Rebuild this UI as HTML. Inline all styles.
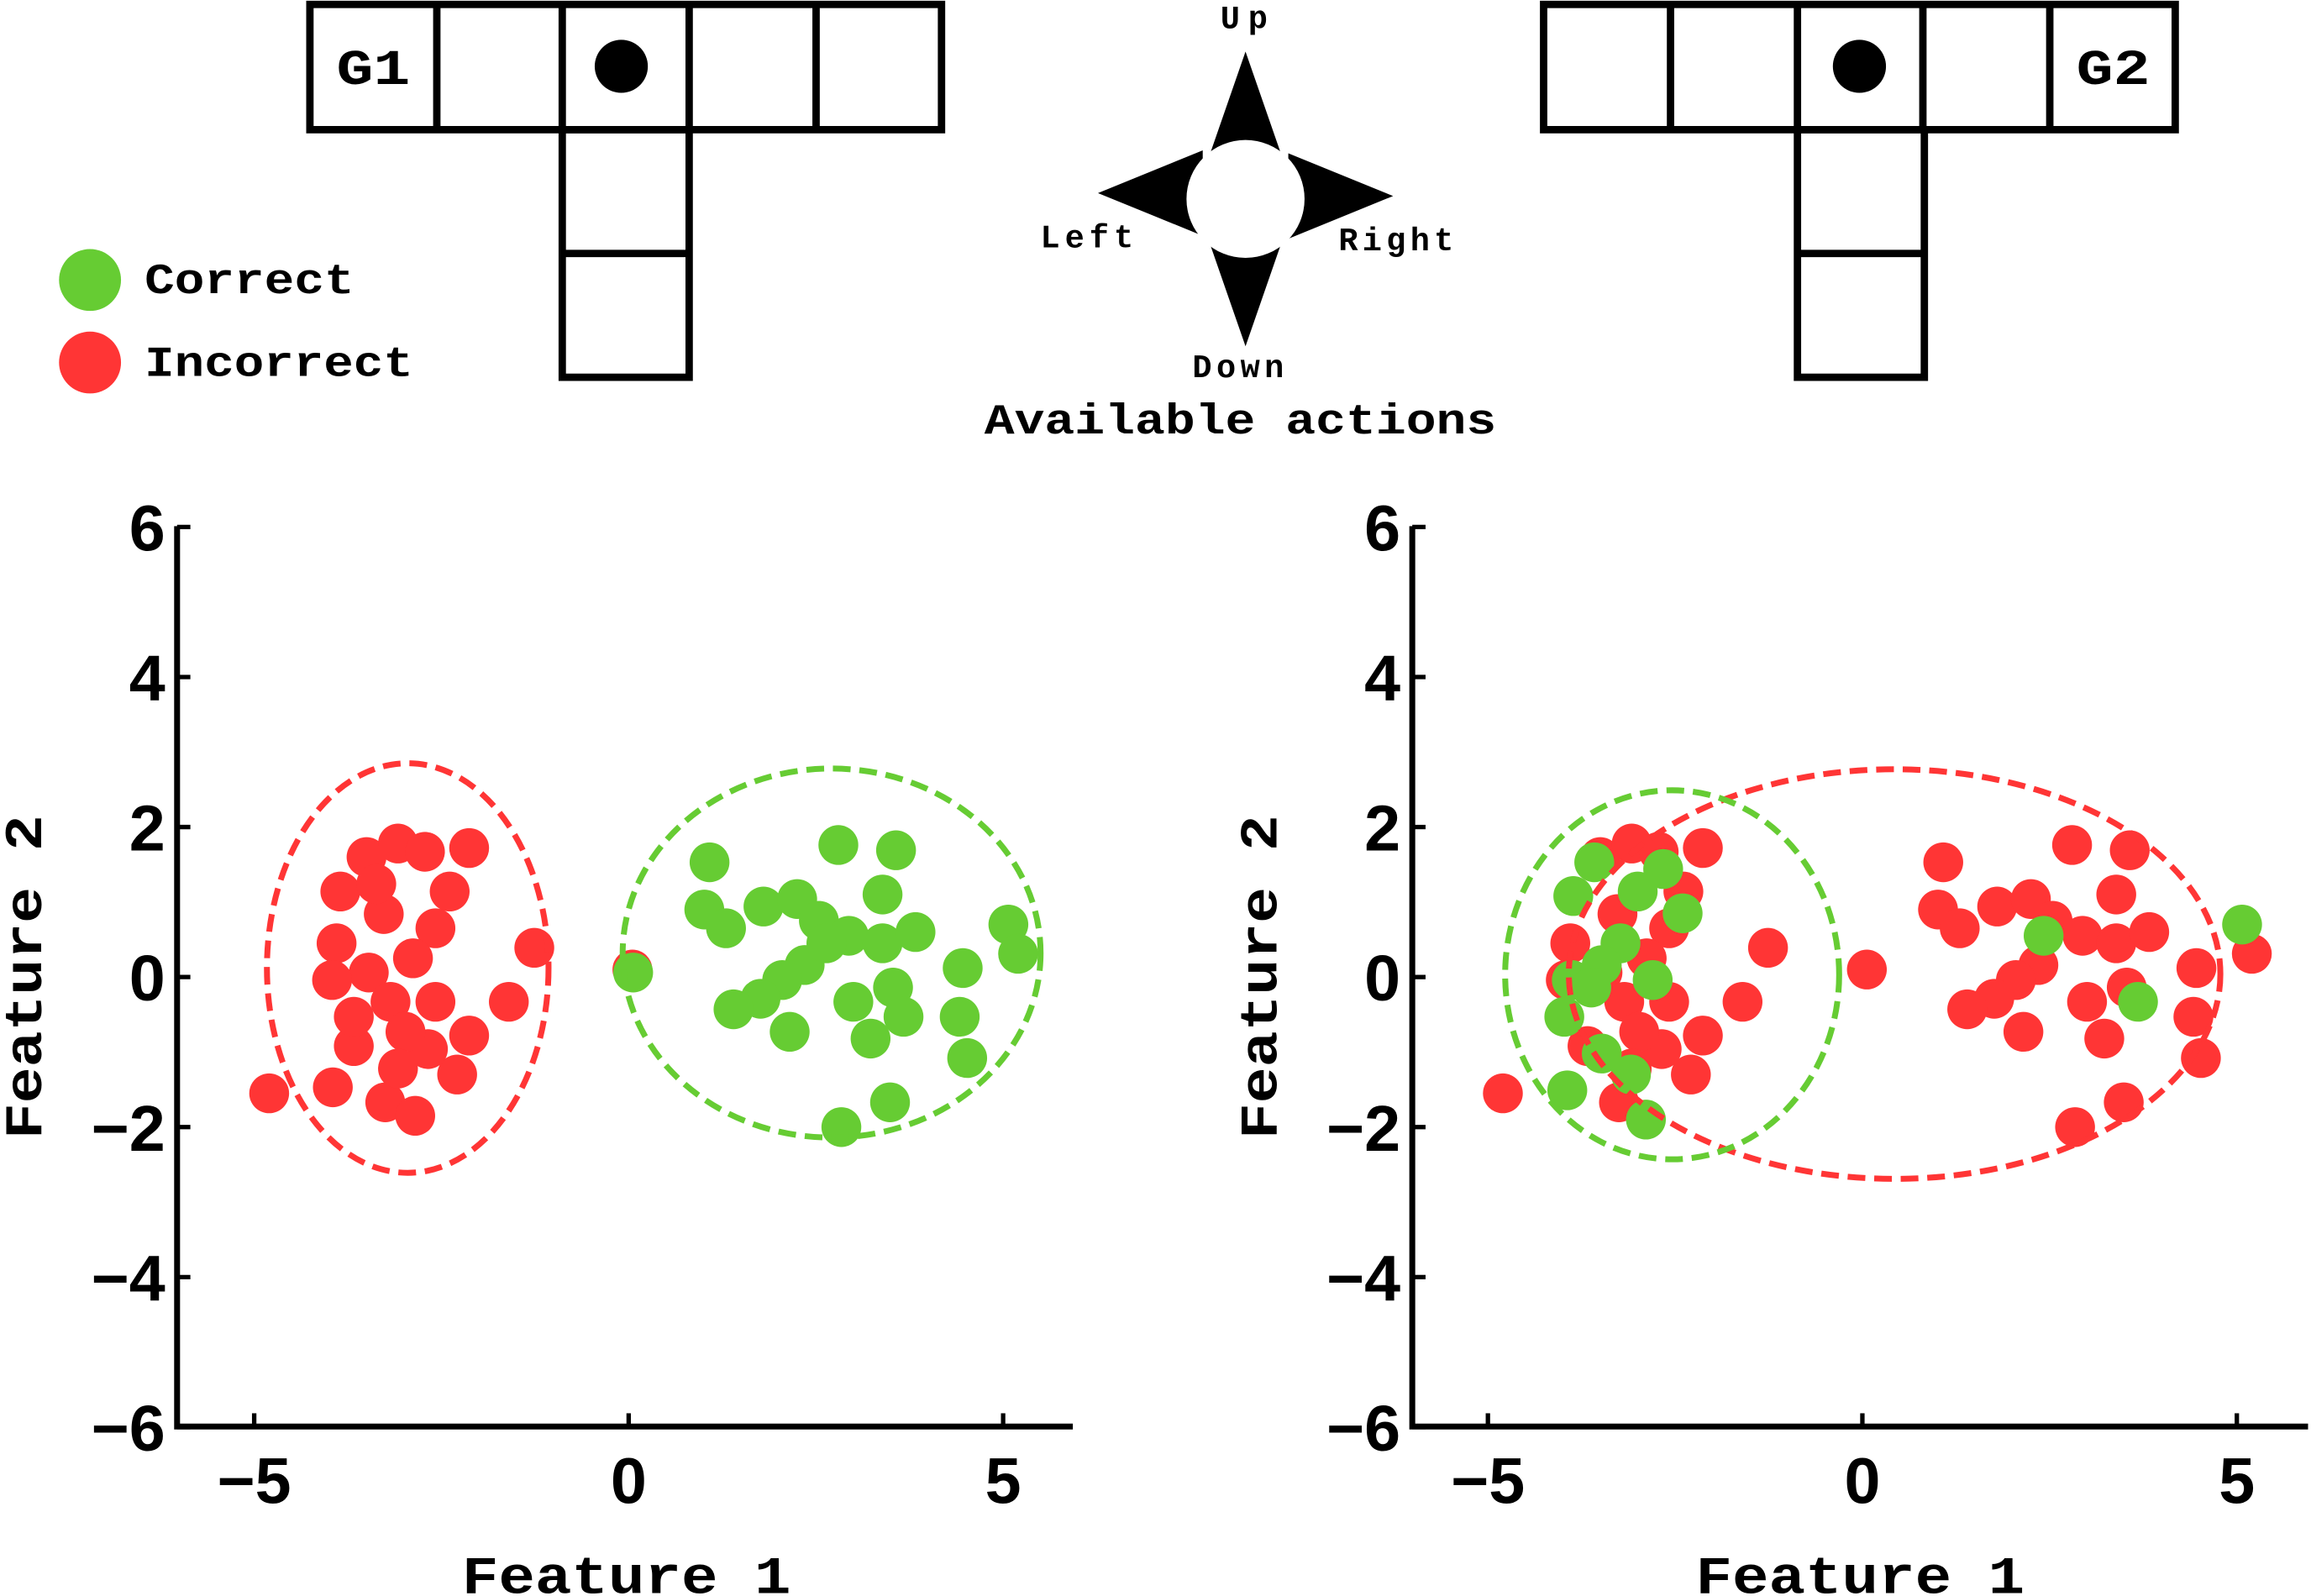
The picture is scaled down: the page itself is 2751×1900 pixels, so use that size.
<!DOCTYPE html>
<html><head><meta charset="utf-8"><style>
html,body{margin:0;padding:0;background:#fff;}
svg{display:block;}
.mono{font-family:"Liberation Mono",monospace;font-weight:bold;}
.sans{font-family:"Liberation Sans",sans-serif;font-weight:bold;}
</style></head><body>
<svg id="fig" width="2751" height="1900" viewBox="0 0 1566 1083" preserveAspectRatio="none" xmlns="http://www.w3.org/2000/svg">
<g fill="none" stroke="#000" stroke-width="5">
<rect x="210" y="3" width="428" height="85"/>
<line x1="296" y1="3" x2="296" y2="88"/><line x1="381" y1="3" x2="381" y2="88"/>
<line x1="467" y1="3" x2="467" y2="88"/><line x1="553" y1="3" x2="553" y2="88"/>
<rect x="381" y="88" width="86" height="168"/><line x1="381" y1="172" x2="467" y2="172"/>
</g>
<circle cx="421" cy="45" r="18" fill="#000"/>
<text class="mono" x="228" y="57" font-size="34" textLength="50" lengthAdjust="spacingAndGlyphs">G1</text>
<g fill="none" stroke="#000" stroke-width="5">
<rect x="1046" y="3" width="428" height="85"/>
<line x1="1132" y1="3" x2="1132" y2="88"/><line x1="1218" y1="3" x2="1218" y2="88"/>
<line x1="1303" y1="3" x2="1303" y2="88"/><line x1="1389" y1="3" x2="1389" y2="88"/>
<rect x="1218" y="88" width="86" height="168"/><line x1="1218" y1="172" x2="1304" y2="172"/>
</g>
<circle cx="1260" cy="45" r="18" fill="#000"/>
<text class="mono" x="1407" y="57" font-size="34" textLength="50" lengthAdjust="spacingAndGlyphs">G2</text>
<g fill="#000">
<polygon points="844,35 870,110 818,110"/>
<polygon points="844,235 870,160 818,160"/>
<polygon points="744,131 815,102 815,160"/>
<polygon points="944,133 873,104 873,162"/>
<circle cx="844" cy="135" r="40" fill="#fff"/>
</g>
<g class="mono" font-size="22" lengthAdjust="spacingAndGlyphs">
<text x="827" y="19" textLength="32">Up</text>
<text x="705" y="168" textLength="63">Left</text>
<text x="907" y="170" textLength="78">Right</text>
<text x="808" y="256" textLength="62">Down</text>
</g>
<text class="mono" x="667" y="294" font-size="29" textLength="347" lengthAdjust="spacingAndGlyphs">Available actions</text>
<g>
<circle cx="61" cy="190" r="21" fill="#66cc33"/>
<text class="mono" x="98" y="199" font-size="29" textLength="142" lengthAdjust="spacingAndGlyphs">Correct</text>
<circle cx="61" cy="246" r="21" fill="#ff3535"/>
<text class="mono" x="98" y="255" font-size="29" textLength="182" lengthAdjust="spacingAndGlyphs">Incorrect</text>
</g>
<g id="p1"></g>
<g id="p2"></g>
</svg>
<script>
const xTicks=[-5,0,5];
const yTicks=[-6,-4,-2,0,2,4,6];
const redL=[[-4.8,-1.55],[-3.95,-1.47],[-3.25,-1.67],[-2.85,-1.85],[-2.13,1.72],[-1.26,0.39],[-1.6,-0.33],[-2.13,-0.78],[-2.29,-1.3],[-2.68,-0.96],[-3.67,-0.92],[-3.9,0.45],[-3.85,1.14],[-3.5,1.6],[-3.08,1.78],[-2.72,1.67],[-2.39,1.14],[-2.58,0.65],[-3.27,0.84],[-2.88,0.25],[-3.47,0.06],[-3.96,-0.04],[-3.18,-0.33],[-2.58,-0.33],[-3.67,-0.53],[-2.98,-0.73],[-3.08,-1.22],[-3.37,1.24],[0.05,0.1]];
const greenL=[[0.06,0.06],[1.08,1.53],[2.8,1.76],[3.57,1.69],[3.39,1.1],[1.01,0.9],[1.3,0.65],[1.8,0.94],[2.25,1.04],[2.54,0.75],[2.94,0.55],[3.39,0.45],[3.83,0.6],[2.35,0.16],[2.05,-0.04],[1.76,-0.29],[1.4,-0.43],[2.15,-0.73],[3.0,-0.33],[3.53,-0.14],[3.67,-0.53],[3.23,-0.82],[4.46,0.12],[4.42,-0.53],[4.52,-1.08],[5.07,0.7],[5.2,0.31],[3.49,-1.67],[2.84,-2.0],[2.64,0.45]];
const redR=[[-4.8,-1.55],[-3.25,-1.67],[-2.13,1.72],[-1.26,0.39],[-1.6,-0.33],[-2.13,-0.78],[-2.29,-1.3],[-2.68,-0.96],[-3.67,-0.92],[-3.9,0.45],[-3.5,1.6],[-3.08,1.78],[-2.72,1.67],[-2.39,1.14],[-2.58,0.65],[-3.27,0.84],[-2.88,0.25],[-3.47,0.06],[-3.96,-0.04],[-3.18,-0.33],[-2.58,-0.33],[-2.98,-0.73],[-3.08,-1.22],[0.06,0.1],[1.08,1.53],[2.8,1.76],[3.57,1.69],[3.39,1.1],[1.01,0.9],[1.3,0.65],[1.8,0.94],[2.25,1.04],[2.54,0.75],[2.94,0.55],[3.39,0.45],[3.83,0.6],[2.35,0.16],[2.05,-0.04],[1.76,-0.29],[1.4,-0.43],[2.15,-0.73],[3.0,-0.33],[3.53,-0.14],[3.23,-0.82],[4.46,0.12],[4.42,-0.53],[4.52,-1.08],[5.2,0.31],[3.49,-1.67],[2.84,-2.0]];
const greenR=[[-3.58,1.53],[-3.86,1.08],[-2.66,1.44],[-2.4,0.85],[-3.0,1.14],[-3.23,0.45],[-3.48,0.16],[-3.88,-0.04],[-2.8,-0.04],[-3.98,-0.53],[-3.48,-1.02],[-3.09,-1.3],[-3.94,-1.51],[-2.89,-1.9],[-3.62,-0.14],[5.07,0.7],[3.68,-0.33],[2.42,0.55]];
const ellL=[[-2.95,0.12,1.88,2.73,'#ff3535'],[2.71,0.32,2.79,2.46,'#66cc33']];
const ellR=[[0.43,0.04,4.35,2.73,'#ff3535'],[-2.54,0.03,2.23,2.46,'#66cc33']];
const NS='http://www.w3.org/2000/svg';
function mk(g,tag,attrs){const e=document.createElementNS(NS,tag);for(const k in attrs)e.setAttribute(k,attrs[k]);g.appendChild(e);return e;}
function plot(gid,ax,x0,ells,red,green,pfx){
  const g=document.getElementById(gid);
  const sx=v=>x0+v*50.75, sy=v=>663-v*50.9;
  const axes=mk(g,'path',{d:`M${ax},357 L${ax},968 L${ax+607},968`,fill:'none',stroke:'#000','stroke-width':4});
  
  
  yTicks.forEach(t=>{
    mk(g,'line',{x1:ax,x2:ax+9,y1:sy(t),y2:sy(t),stroke:'#000','stroke-width':3});
    const tx=mk(g,'text',{x:ax-8,y:sy(t)+16,'font-size':44,'text-anchor':'end',class:'sans'});
    tx.textContent=(t<0?'\u2212':'')+Math.abs(t);
    
    
  });
  xTicks.forEach(t=>{
    mk(g,'line',{x1:sx(t),x2:sx(t),y1:968,y2:959,stroke:'#000','stroke-width':3});
    const tx=mk(g,'text',{x:sx(t),y:1020,'font-size':44,'text-anchor':'middle',class:'sans'});
    tx.textContent=(t<0?'\u2212':'')+Math.abs(t);
    
    
  });
  const xt=mk(g,'text',{x:x0-113,y:1081,'font-size':36,class:'mono',textLength:223,lengthAdjust:'spacingAndGlyphs'});
  xt.textContent='Feature 1';
  
  
  const yt=mk(g,'text',{x:-110,y:0,'font-size':36,class:'mono',textLength:220,lengthAdjust:'spacingAndGlyphs',transform:`translate(${ax-92},663) rotate(-90)`});
  yt.textContent='Feature 2';
  
  
  red.forEach(p=>{const c=mk(g,'circle',{cx:sx(p[0]),cy:sy(p[1]),r:13.5,fill:'#ff3535'});
    
    });
  green.forEach(p=>{const c=mk(g,'circle',{cx:sx(p[0]),cy:sy(p[1]),r:13.5,fill:'#66cc33'});
    
    });
  ells.forEach(e=>{const el=mk(g,'ellipse',{cx:sx(e[0]),cy:sy(e[1]),rx:e[2]*50.75,ry:e[3]*50.9,fill:'none',stroke:e[4],'stroke-width':4,'stroke-dasharray':'12 6'});
    
    });
}
plot('p1',120,426,ellL,redL,greenL,'left');
plot('p2',957,1262,ellR,redR,greenR,'right');
</script>
</body></html>
